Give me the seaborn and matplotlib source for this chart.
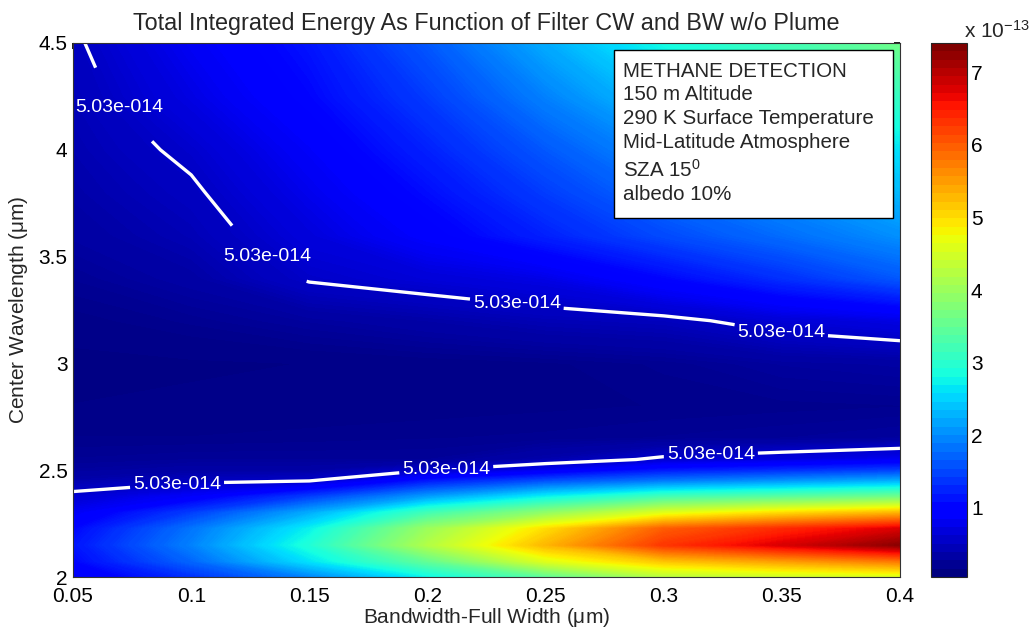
import numpy as np
import matplotlib
matplotlib.use("Agg")
import matplotlib.pyplot as plt
import seaborn as sns
from matplotlib.colors import Normalize
from matplotlib.patches import Rectangle

# filter bandwidth (x) and center wavelength (y), both in um
bandwidth = [0.05, 0.1, 0.15, 0.2, 0.25, 0.3, 0.35, 0.4]
center_wl = [2.0, 2.075, 2.15, 2.225, 2.3, 2.375, 2.45, 2.5, 2.55, 2.65,
             2.8, 3.0, 3.2, 3.4, 3.6, 3.8, 4.0, 4.25, 4.5]

# total integrated energy, units of 1e-13, one row per center wavelength
energy = [
    [0.80, 1.30, 1.90, 2.70, 3.40, 4.20, 4.40, 4.50],
    [1.00, 1.70, 2.60, 3.50, 4.60, 5.20, 5.50, 5.80],
    [1.10, 1.90, 2.90, 4.20, 5.30, 6.30, 6.80, 7.30],
    [1.00, 1.80, 2.70, 4.00, 5.00, 6.00, 6.40, 6.80],
    [0.80, 1.40, 2.20, 3.20, 3.90, 4.60, 5.00, 5.30],
    [0.58, 0.85, 1.40, 2.10, 2.70, 3.20, 3.40, 3.60],
    [0.35, 0.45, 0.50, 1.10, 1.50, 1.80, 2.00, 2.20],
    [0.25, 0.30, 0.30, 0.50, 0.75, 1.10, 1.25, 1.40],
    [0.20, 0.22, 0.22, 0.22, 0.35, 0.55, 0.65, 0.78],
    [0.15, 0.15, 0.16, 0.17, 0.18, 0.20, 0.22, 0.25],
    [0.10, 0.11, 0.12, 0.13, 0.14, 0.15, 0.16, 0.17],
    [0.08, 0.09, 0.10, 0.12, 0.14, 0.18, 0.25, 0.28],
    [0.13, 0.18, 0.25, 0.32, 0.40, 0.44, 0.60, 0.70],
    [0.20, 0.30, 0.53, 0.62, 0.72, 1.00, 1.30, 1.60],
    [0.28, 0.40, 0.65, 0.90, 1.20, 1.50, 1.75, 2.00],
    [0.33, 0.47, 0.75, 1.05, 1.40, 1.75, 2.00, 2.30],
    [0.37, 0.55, 0.85, 1.20, 1.60, 2.00, 2.30, 2.60],
    [0.42, 0.70, 1.00, 1.40, 1.90, 2.40, 2.80, 3.10],
    [0.47, 0.80, 1.10, 1.60, 2.20, 2.80, 3.20, 3.60],
]

contour_level = 0.503
label_spots = [(0.0716, 4.22), (0.128, 3.44), (0.238, 3.30), (0.35, 3.17),
               (0.094, 2.435), (0.208, 2.49), (0.32, 2.55)]

x_ticks = [0.05, 0.1, 0.15, 0.2, 0.25, 0.3, 0.35, 0.4]
x_ticklabels = ['0.05', '0.1', '0.15', '0.2', '0.25', '0.3', '0.35', '0.4']
y_ticks = [2, 2.5, 3, 3.5, 4, 4.5]
y_ticklabels = ['2', '2.5', '3', '3.5', '4', '4.5']
cbar_ticks = [1, 2, 3, 4, 5, 6, 7]

box_lines = ['METHANE DETECTION', '150 m Altitude', '290 K Surface Temperature',
             'Mid-Latitude Atmosphere', 'SZA 15$^{0}$', 'albedo 10%']

sns.set_theme(style='white')
plt.rcParams['font.family'] = ['Liberation Sans', 'DejaVu Sans']
plt.rcParams['mathtext.fontset'] = 'custom'
plt.rcParams['mathtext.rm'] = 'Liberation Sans'
plt.rcParams['mathtext.it'] = 'Liberation Sans'

norm = Normalize(vmin=0.05, vmax=7.4)

fig = plt.figure(figsize=(10.29, 6.34), dpi=100)
ax = fig.add_axes([0.071, 0.0899, 0.8037, 0.8423])
cax = fig.add_axes([0.9045, 0.0899, 0.035, 0.8423])

cf = ax.contourf(bandwidth, center_wl, energy, levels=np.linspace(0.05, 7.4, 300),
                 cmap='jet', norm=norm)
cf.set_edgecolor('face')
cf.set_linewidth(0.4)

cs = ax.contour(bandwidth, center_wl, energy, levels=[contour_level],
                colors='white', linewidths=2.4)


def matlab_fmt(v):
    m, e = f'{v * 1e-13:.2e}'.split('e')
    return f'{m}e{e[0]}{int(e[1:]):03d}'


labels = ax.clabel(cs, fmt=matlab_fmt, fontsize=14, inline=True,
                   inline_spacing=3, manual=label_spots)
for t in labels:
    t.set_rotation(0)

ax.set_xlim(0.05, 0.4)
ax.set_ylim(2, 4.5)
ax.set_xticks(x_ticks)
ax.set_xticklabels(x_ticklabels)
ax.set_yticks(y_ticks)
ax.set_yticklabels(y_ticklabels)
ax.tick_params(axis='x', direction='in', top=True, length=4, labelsize=15,
               colors='black', pad=7)
ax.tick_params(axis='y', direction='in', right=True, length=4, labelsize=15,
               colors='black', pad=4)
for s in ax.spines.values():
    s.set_color('#333333')
    s.set_linewidth(0.8)

ax.set_xlabel('Bandwidth-Full Width ($\\mu$m)', fontsize=15, labelpad=0)
ax.set_ylabel('Center Wavelength ($\\mu$m)', fontsize=15, labelpad=6)
ax.set_title('Total Integrated Energy As Function of Filter CW and BW w/o Plume',
             fontsize=16.8, pad=9)

# annotation box
ax.add_patch(Rectangle((0.654, 0.672), 0.3375, 0.315, transform=ax.transAxes,
                       facecolor='white', edgecolor='black', linewidth=1, zorder=5))
line_y = [72, 95, 119, 143, 170, 195]
for txt, py in zip(box_lines, line_y):
    ax.text((623 - 73) / 827, (577 - py) / 534, txt, transform=ax.transAxes,
            fontsize=14.8, va='center', ha='left', zorder=6)

cmap_bar = matplotlib.colormaps['jet'].resampled(64)
sm = plt.cm.ScalarMappable(norm=norm, cmap=cmap_bar)
cb = fig.colorbar(sm, cax=cax)
cb.set_ticks(cbar_ticks)
cax.tick_params(direction='in', left=True, right=True, length=4, labelsize=15,
                colors='black', pad=3)
cb.outline.set_linewidth(0.8)
fig.text(0.937, 0.952, 'x 10$^{-13}$', fontsize=15, ha='left', va='center')

fig.savefig('out.png', dpi=100)
